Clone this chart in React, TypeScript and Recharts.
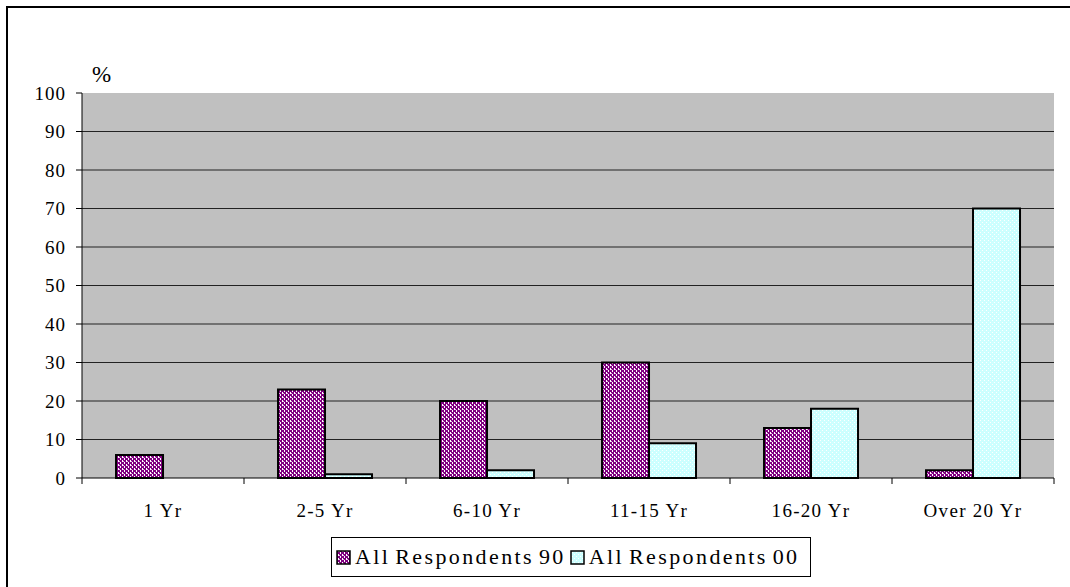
import { BarChart, Bar, XAxis, YAxis, CartesianGrid, Legend } from 'recharts';

const categories = ['1 Yr', '2-5 Yr', '6-10 Yr', '11-15 Yr', '16-20 Yr', 'Over 20 Yr'];
const respondents90 = [6, 23, 20, 30, 13, 2];
const respondents00 = [0, 1, 2, 9, 18, 70];
const yTicks = [0, 10, 20, 30, 40, 50, 60, 70, 80, 90, 100];

const data = categories.map((name, i) => ({
  name,
  r90: respondents90[i],
  r00: respondents00[i],
}));

const FONT = '"Liberation Serif", "Times New Roman", serif';

function Patterns() {
  return (
    <defs>
      <pattern id="purpleHatch" width="4" height="4" patternUnits="userSpaceOnUse">
        <rect width="4" height="4" fill="#800080" />
        <rect x="2" y="0" width="1" height="2" fill="#ffffff" />
        <rect x="0" y="2" width="1" height="2" fill="#ffffff" />
        <rect x="3" y="1" width="1" height="1" fill="#e0b0e0" />
      </pattern>
      <pattern id="cyanHatch" width="4" height="4" patternUnits="userSpaceOnUse">
        <rect width="4" height="4" fill="#ccffff" />
        <rect x="0" y="0" width="1" height="1" fill="#ffffff" />
        <rect x="2" y="2" width="1" height="1" fill="#ffffff" />
      </pattern>
    </defs>
  );
}

function XTick(props: any) {
  const { x, y, payload, index, visibleTicksCount } = props;
  const half = payload && payload.offset ? payload.offset : 81;
  const axisY = y - 8;
  return (
    <g>
      <line x1={x - half} x2={x - half} y1={axisY} y2={axisY + 6} stroke="#000" />
      {index === visibleTicksCount - 1 && (
        <line x1={x + half} x2={x + half} y1={axisY} y2={axisY + 6} stroke="#000" />
      )}
      <text
        x={x}
        y={axisY + 39}
        textAnchor="middle"
        fontFamily={FONT}
        fontSize={19}
        letterSpacing={1.3}
        fill="#000"
      >
        {payload.value}
      </text>
    </g>
  );
}

function LegendBox() {
  const items = [
    { id: 'purpleHatch', label: 'All Respondents 90' },
    { id: 'cyanHatch', label: 'All Respondents 00' },
  ];
  return (
    <div
      style={{
        display: 'inline-flex',
        alignItems: 'center',
        border: '1px solid #000',
        height: 38,
        padding: '0 6px 0 4px',
        fontFamily: FONT,
        fontSize: 22,
        letterSpacing: 2.4,
        wordSpacing: -3,
        background: '#fff',
        whiteSpace: 'nowrap',
      }}
    >
      {items.map((it) => (
        <span key={it.id} style={{ display: 'inline-flex', alignItems: 'center', marginRight: 4 }}>
          <svg width="15" height="15" style={{ marginRight: 4 }}>
            <Patterns />
            <rect x="1" y="1" width="13" height="13" fill={`url(#${it.id})`} stroke="#000" strokeWidth="1.5" />
          </svg>
          {it.label}
        </span>
      ))}
    </div>
  );
}

export default function App() {
  return (
    <div style={{ position: 'absolute', left: 0, top: 0, width: 1070, height: 587, background: '#fff', overflow: 'hidden' }}>
      <div
        style={{
          position: 'absolute',
          left: 6,
          top: 6,
          width: 1100,
          height: 620,
          borderLeft: '2px solid #000',
          borderTop: '2px solid #000',
        }}
      />
      <span
        style={{
          position: 'absolute',
          left: 92,
          top: 62,
          fontFamily: FONT,
          fontSize: 23,
        }}
      >
        %
      </span>
      <BarChart
        width={1070}
        height={587}
        data={data}
        margin={{ top: 93, right: 16, left: 0, bottom: 10 }}
        barCategoryGap="21%"
        barGap={0}
        style={{ position: 'absolute', left: 0, top: 0 }}
      >
        <Patterns />
        <CartesianGrid
          vertical={false}
          fill="#c0c0c0"
          stroke="#222"
          strokeWidth={1}
          horizontalValues={yTicks.slice(1, -1)}
        />
        <XAxis
          dataKey="name"
          height={59}
          axisLine={{ stroke: '#000' }}
          tickLine={false}
          tick={<XTick />}
          interval={0}
        />
        <YAxis
          width={82}
          domain={[0, 100]}
          ticks={yTicks}
          interval={0}
          axisLine={{ stroke: '#000' }}
          tickLine={{ stroke: '#000' }}
          tickSize={6}
          tickMargin={10}
          tick={{ fontFamily: FONT, fontSize: 19, fill: '#000', letterSpacing: 1 }}
        />
        <Legend verticalAlign="bottom" height={40} content={<LegendBox />} wrapperStyle={{ left: 331, width: 'auto' }} />
        <Bar dataKey="r90" name="All Respondents 90" fill="url(#purpleHatch)" stroke="#000" strokeWidth={2} isAnimationActive={false} />
        <Bar dataKey="r00" name="All Respondents 00" fill="url(#cyanHatch)" stroke="#000" strokeWidth={2} isAnimationActive={false} />
      </BarChart>
    </div>
  );
}
